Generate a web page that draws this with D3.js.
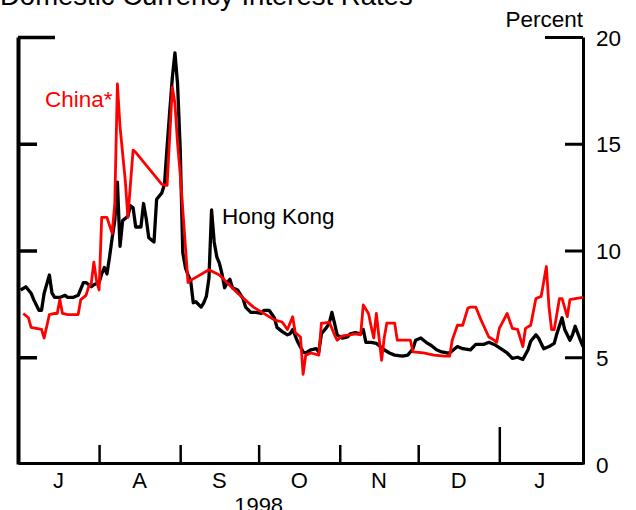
<!DOCTYPE html>
<html>
<head>
<meta charset="utf-8">
<script src="https://cdn.jsdelivr.net/npm/d3@7"></script>
<style>
  html, body { margin: 0; padding: 0; background: #fff; }
  svg { display: block; }
  text { font-family: "Liberation Sans", Arial, Helvetica, sans-serif; }
</style>
</head>
<body>
<svg id="chart" width="636" height="510"></svg>
<script>
// Domestic currency interest rates, percent, Jul 1998 - Jan 1999
const titleText = "Domestic Currency Interest Rates";
const unitLabel = "Percent";
const yTicks = [0, 5, 10, 15, 20];
const monthLabels = ["J", "A", "S", "O", "N", "D", "J"];
const monthStarts = ["1998-07-01", "1998-08-01", "1998-09-01", "1998-10-01", "1998-11-01", "1998-12-01", "1999-01-01", "1999-02-01"];
const yearLabel = "1998";

const hkDates = [
  "1998-07-02","1998-07-04","1998-07-06","1998-07-07","1998-07-09","1998-07-10","1998-07-11","1998-07-13","1998-07-14","1998-07-15",
  "1998-07-17","1998-07-19","1998-07-20","1998-07-22","1998-07-24","1998-07-26","1998-07-27","1998-07-29","1998-07-30","1998-08-01",
  "1998-08-02","1998-08-03","1998-08-04","1998-08-05","1998-08-06","1998-08-07","1998-08-08","1998-08-09","1998-08-10","1998-08-12",
  "1998-08-13","1998-08-14","1998-08-15","1998-08-17","1998-08-18","1998-08-19","1998-08-20","1998-08-22","1998-08-23","1998-08-25",
  "1998-08-26","1998-08-27","1998-08-28","1998-08-29","1998-08-30","1998-08-31","1998-09-01","1998-09-02","1998-09-03","1998-09-04",
  "1998-09-05","1998-09-06","1998-09-07","1998-09-09","1998-09-10","1998-09-11","1998-09-12","1998-09-13","1998-09-14","1998-09-15",
  "1998-09-16","1998-09-17","1998-09-18","1998-09-19","1998-09-20","1998-09-21","1998-09-23","1998-09-25","1998-09-26","1998-09-28",
  "1998-09-30","1998-10-02","1998-10-03","1998-10-05","1998-10-07","1998-10-08","1998-10-10","1998-10-12","1998-10-13","1998-10-14",
  "1998-10-16","1998-10-18","1998-10-19","1998-10-21","1998-10-23","1998-10-24","1998-10-25","1998-10-27","1998-10-28","1998-10-29",
  "1998-10-30","1998-10-31","1998-11-02","1998-11-04","1998-11-05","1998-11-07","1998-11-09","1998-11-10","1998-11-11","1998-11-13",
  "1998-11-15","1998-11-16","1998-11-18","1998-11-20","1998-11-22","1998-11-25","1998-11-27","1998-11-29","1998-11-30","1998-12-02",
  "1998-12-04","1998-12-06","1998-12-08","1998-12-10","1998-12-12","1998-12-13","1998-12-16","1998-12-18","1998-12-21","1998-12-23",
  "1998-12-26","1998-12-28","1998-12-30","1999-01-01","1999-01-04","1999-01-06","1999-01-08","1999-01-10","1999-01-12","1999-01-13",
  "1999-01-15","1999-01-16","1999-01-18","1999-01-20","1999-01-22","1999-01-23","1999-01-25","1999-01-26","1999-01-28","1999-01-29",
  "1999-01-30","1999-02-01","1999-02-02"
];
const hkRates = [
  8.15, 8.3, 8.0, 7.7, 7.2, 7.2, 8.0, 8.85, 8.0, 7.8,
  7.8, 7.9, 7.8, 7.8, 7.9, 8.5, 8.5, 8.3, 8.4, 8.5,
  8.9, 9.2, 8.9, 9.7, 10.6, 11.4, 13.2, 10.2, 11.4, 11.6,
  12.1, 12.0, 11.1, 11.1, 12.2, 11.5, 10.6, 10.4, 12.4, 12.7,
  13.1, 14.85, 16.5, 18.1, 19.25, 17.8, 14.8, 9.9, 9.2, 8.85,
  8.6, 7.55, 7.6, 7.35, 7.55, 7.85, 8.7, 11.9, 10.4, 9.7,
  9.4, 8.9, 8.25, 8.5, 8.65, 8.25, 8.15, 7.75, 7.35, 7.1,
  7.1, 7.05, 7.2, 7.2, 6.85, 6.4, 6.2, 6.05, 6.1, 6.3,
  5.7, 5.25, 5.2, 5.35, 5.4, 5.25, 6.1, 6.4, 6.6, 7.1,
  6.6, 6.05, 5.9, 5.95, 6.1, 6.15, 6.1, 6.3, 5.7, 5.7,
  5.65, 5.55, 5.35, 5.2, 5.1, 5.05, 5.1, 5.4, 5.8, 5.9,
  5.7, 5.55, 5.35, 5.25, 5.2, 5.2, 5.5, 5.4, 5.35, 5.6,
  5.6, 5.7, 5.6, 5.45, 5.2, 4.95, 5.0, 4.9, 5.35, 5.75,
  6.05, 5.9, 5.4, 5.5, 5.65, 6.1, 6.85, 6.3, 5.8, 6.05,
  6.45, 5.8, 5.5
];

const cnDates = [
  "1998-07-03","1998-07-05","1998-07-06","1998-07-08","1998-07-10","1998-07-11","1998-07-13","1998-07-15","1998-07-16","1998-07-17",
  "1998-07-18","1998-07-20","1998-07-22","1998-07-24","1998-07-25","1998-07-27","1998-07-28","1998-07-29","1998-07-30","1998-07-31",
  "1998-08-01","1998-08-02","1998-08-04","1998-08-06","1998-08-07","1998-08-08","1998-08-09","1998-08-11","1998-08-12","1998-08-14",
  "1998-08-15","1998-08-25","1998-08-27","1998-08-29","1998-08-30","1998-08-31","1998-09-01","1998-09-04","1998-09-05","1998-09-12",
  "1998-09-16","1998-09-23","1998-09-29","1998-10-07","1998-10-10","1998-10-12","1998-10-14","1998-10-15","1998-10-17","1998-10-18",
  "1998-10-19","1998-10-21","1998-10-24","1998-10-25","1998-10-26","1998-10-28","1998-10-30","1998-10-31","1998-11-02","1998-11-05",
  "1998-11-07","1998-11-09","1998-11-10","1998-11-12","1998-11-13","1998-11-14","1998-11-15","1998-11-17","1998-11-18","1998-11-19",
  "1998-11-21","1998-11-22","1998-11-23","1998-11-25","1998-11-28","1998-11-29","1998-12-03","1998-12-07","1998-12-11","1998-12-13",
  "1998-12-14","1998-12-16","1998-12-18","1998-12-20","1998-12-21","1998-12-23","1998-12-25","1998-12-28","1998-12-30","1998-12-31",
  "1999-01-01","1999-01-04","1999-01-06","1999-01-08","1999-01-10","1999-01-11","1999-01-13","1999-01-15","1999-01-17","1999-01-19",
  "1999-01-20","1999-01-21","1999-01-22","1999-01-24","1999-01-25","1999-01-27","1999-01-28","1999-01-30","1999-02-02"
];
const cnRates = [
  7.05, 6.85, 6.4, 6.35, 6.3, 5.9, 7.0, 7.05, 7.05, 7.7,
  7.05, 7.0, 7.0, 7.0, 7.7, 7.9, 8.3, 8.45, 9.45, 8.6,
  8.15, 11.55, 11.55, 10.8, 12.2, 17.8, 15.8, 13.3, 11.55, 14.7,
  14.6, 13.1, 13.05, 17.65, 16.9, 15.0, 13.6, 8.5, 8.6, 9.1,
  8.85, 8.0, 7.35, 6.75, 6.65, 6.3, 6.9, 6.15, 5.95, 4.2,
  5.1, 5.2, 5.1, 6.6, 6.6, 6.65, 6.05, 5.8, 6.0, 6.05,
  6.1, 6.05, 7.45, 7.05, 6.45, 5.9, 7.05, 4.85, 5.9, 6.6,
  6.6, 6.6, 5.8, 5.8, 5.8, 5.25, 5.2, 5.1, 5.05, 5.05,
  5.8, 6.5, 6.5, 7.3, 7.35, 7.35, 6.75, 5.95, 5.8, 5.7,
  6.35, 7.05, 6.35, 6.3, 5.5, 6.35, 6.5, 7.75, 7.85, 9.25,
  7.35, 6.3, 6.3, 7.75, 7.75, 6.9, 7.7, 7.75, 7.8
];

const parse = d3.timeParse("%Y-%m-%d");
const hk = hkDates.map((d, i) => ({ date: parse(d), value: hkRates[i] }));
const cn = cnDates.map((d, i) => ({ date: parse(d), value: cnRates[i] }));
const months = monthStarts.map(parse);

const svg = d3.select("#chart");
const plotLeft = 18, plotRight = 583, plotTop = 37, plotBottom = 464;

const x = d3.scaleTime()
  .domain([parse("1998-07-01"), parse("1999-02-02")])
  .range([plotLeft, plotRight]);
const y = d3.scaleLinear().domain([0, 20]).range([plotBottom, plotTop]);

// title (runs off the top edge)
svg.append("text")
  .attr("x", 0).attr("y", 5)
  .attr("font-size", 27.5)
  .attr("fill", "#000")
  .text(titleText);

svg.append("text")
  .attr("x", plotRight).attr("y", 27)
  .attr("text-anchor", "end")
  .attr("font-size", 22.5)
  .text(unitLabel);

// left axis: inward ticks, no labels
const gL = svg.append("g")
  .attr("transform", `translate(${plotLeft},0)`)
  .call(d3.axisLeft(y).tickValues(yTicks).tickSize(-19).tickSizeOuter(0).tickFormat(""));
gL.select(".domain").attr("stroke-width", 4);
gL.selectAll(".tick line").attr("stroke-width", 3.5)
  .filter(d => d === 20).attr("x2", 37);
gL.selectAll(".tick").filter(d => d === 0).remove();

// right axis: inward ticks, labels outside
const gR = svg.append("g")
  .attr("transform", `translate(${plotRight},0)`)
  .call(d3.axisRight(y).tickValues(yTicks).tickSize(-18).tickSizeOuter(0).tickPadding(13));
gR.select(".domain").attr("stroke-width", 3);
gR.selectAll(".tick line").attr("stroke-width", 3)
  .filter(d => d === 20).attr("x2", -38);
gR.selectAll(".tick").filter(d => d === 0).select("line").remove();
gR.selectAll(".tick text")
  .attr("font-size", 22.5)
  .attr("font-family", "Liberation Sans, Arial, sans-serif")
  .attr("fill", "#000")
  .attr("dy", "0.36em");

// bottom axis: month boundaries, taller tick at the year change
const gB = svg.append("g")
  .attr("transform", `translate(0,${plotBottom - 1})`)
  .call(d3.axisBottom(x).tickValues(months.slice(1, 7)).tickSize(-18).tickSizeOuter(0).tickFormat(""));
gB.select(".domain").attr("stroke-width", 3);
gB.selectAll(".tick line").attr("stroke-width", 2.5)
  .filter(d => d.getFullYear() === 1999).attr("y2", -36);

// month initials centred in each month
svg.append("g").selectAll("text")
  .data(monthLabels)
  .join("text")
  .attr("x", (d, i) => (x(months[i]) + x(months[i + 1])) / 2)
  .attr("y", 488)
  .attr("text-anchor", "middle")
  .attr("font-size", 22)
  .text(d => d);

svg.append("text")
  .attr("x", (x(months[0]) + x(months[6])) / 2)
  .attr("y", 513)
  .attr("text-anchor", "middle")
  .attr("font-size", 22)
  .text(yearLabel);

const line = d3.line().x(d => x(d.date)).y(d => y(d.value));

svg.append("path")
  .datum(hk)
  .attr("d", line)
  .attr("fill", "none")
  .attr("stroke", "#000")
  .attr("stroke-width", 3.3)
  .attr("stroke-linejoin", "round");

svg.append("path")
  .datum(cn)
  .attr("d", line)
  .attr("fill", "none")
  .attr("stroke", "#ff0000")
  .attr("stroke-width", 2.8)
  .attr("stroke-linejoin", "round");

// series labels
svg.append("text")
  .attr("x", 45).attr("y", 107)
  .attr("font-size", 22.5)
  .attr("fill", "#ff0000")
  .text("China*");

svg.append("text")
  .attr("x", 222).attr("y", 224)
  .attr("font-size", 22.5)
  .attr("fill", "#000")
  .text("Hong Kong");
</script>
</body>
</html>
